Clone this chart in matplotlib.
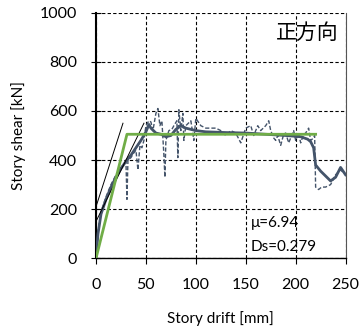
import matplotlib
matplotlib.use("Agg")
import matplotlib.pyplot as plt

plt.rcParams['font.family'] = ['Lato', 'Noto Sans CJK JP', 'DejaVu Sans']

# Raw hysteresis envelope (dashed)
raw_x = [0, 2, 5, 10, 15, 20, 25, 28, 30, 31, 32, 35, 38, 40, 42, 44, 46, 48, 50, 53, 55, 57,
         60, 62, 64, 66, 68, 69, 70, 73, 76, 78, 81, 82, 83, 85, 87, 88, 90, 95, 98, 100, 105,
         110, 120, 125, 130, 135, 140, 145, 150, 155, 158, 162, 165, 170, 173, 175, 178, 180,
         182, 185, 188, 190, 193, 195, 198, 200, 203, 205, 208, 210, 213, 215, 218, 219, 220,
         223, 226, 230, 235, 240, 245, 250]
raw_y = [0, 110, 190, 250, 300, 340, 370, 385, 390, 240, 400, 410, 430, 440, 360, 460, 450, 480,
         540, 560, 555, 520, 590, 610, 540, 560, 420, 330, 480, 520, 525, 540, 560, 410, 605, 520,
         590, 480, 540, 560, 480, 570, 540, 530, 530, 520, 500, 520, 510, 470, 530, 540, 500, 540,
         520, 540, 560, 520, 490, 480, 500, 460, 505, 510, 470, 490, 520, 480, 510, 470, 505, 510,
         530, 480, 490, 500, 290, 280, 290, 290, 300, 340, 360, 340]

# Skeleton curve (solid)
skel_x = [0, 2, 5, 10, 15, 20, 25, 30, 35, 40, 45, 50, 53, 55, 60, 65, 70, 75, 80, 85, 90, 100,
          110, 130, 150, 170, 190, 205, 212, 215, 218, 220, 225, 230, 235, 240, 245, 250]
skel_y = [0, 100, 180, 240, 290, 330, 365, 395, 420, 450, 480, 515, 545, 530, 510, 505, 495, 500,
          525, 540, 530, 520, 515, 512, 510, 505, 500, 495, 485, 475, 450, 380, 355, 335, 315, 330,
          370, 340]

# Bilinear idealization
bil_x = [0, 31, 220]
bil_y = [0, 505, 505]

# Tangent lines
tan1_x = [0, 27]
tan1_y = [210, 550]
tan2_x = [0, 48]
tan2_y = [150, 550]

mu_text = "μ=6.94"
ds_text = "Ds=0.279"
dir_text = "正方向"

dark = "#44546A"
green = "#70AD47"

fig = plt.figure(figsize=(3.63, 3.29), dpi=100)
ax = fig.add_axes([0.2645, 0.2149, 0.6875, 0.7465])

ax.plot(raw_x, raw_y, color=dark, lw=1.0, ls=(0, (3, 1.5)), zorder=3)
ax.plot(skel_x, skel_y, color=dark, lw=2.0, zorder=4)
ax.plot(tan1_x, tan1_y, color="black", lw=0.7, zorder=5)
ax.plot(tan2_x, tan2_y, color="black", lw=0.7, zorder=5)
ax.plot(bil_x, bil_y, color=green, lw=2.0, zorder=6)

ax.set_xlim(0, 250)
ax.set_ylim(0, 1000)
ax.set_xticks([0, 50, 100, 150, 200, 250])
ax.set_yticks([0, 200, 400, 600, 800, 1000])
ax.grid(True, color="black", ls=(0, (3, 2)), lw=0.8)
ax.set_axisbelow(True)

ax.spines["top"].set_visible(False)
ax.spines["right"].set_color("#555555")
ax.spines["right"].set_linewidth(0.8)
ax.spines["left"].set_linewidth(1.5)
ax.spines["bottom"].set_linewidth(1.0)
ax.tick_params(axis="y", direction="inout", length=7, width=0.8, labelsize=11.5, pad=10)
ax.tick_params(axis="x", direction="out", length=4, width=0.8, labelsize=11.5, pad=10)

ax.set_xlabel("Story drift [mm]", fontsize=11, labelpad=14)
ax.set_ylabel("Story shear [kN]", fontsize=11, labelpad=10)

ax.text(155, 145, mu_text, fontsize=11, va="center", ha="left")
ax.text(155, 45, ds_text, fontsize=11, va="center", ha="left")
ax.text(243, 918, dir_text, fontsize=15, va="center", ha="right",
        family=['Noto Sans CJK JP', 'DejaVu Sans'])

fig.savefig("out.png", dpi=100)
